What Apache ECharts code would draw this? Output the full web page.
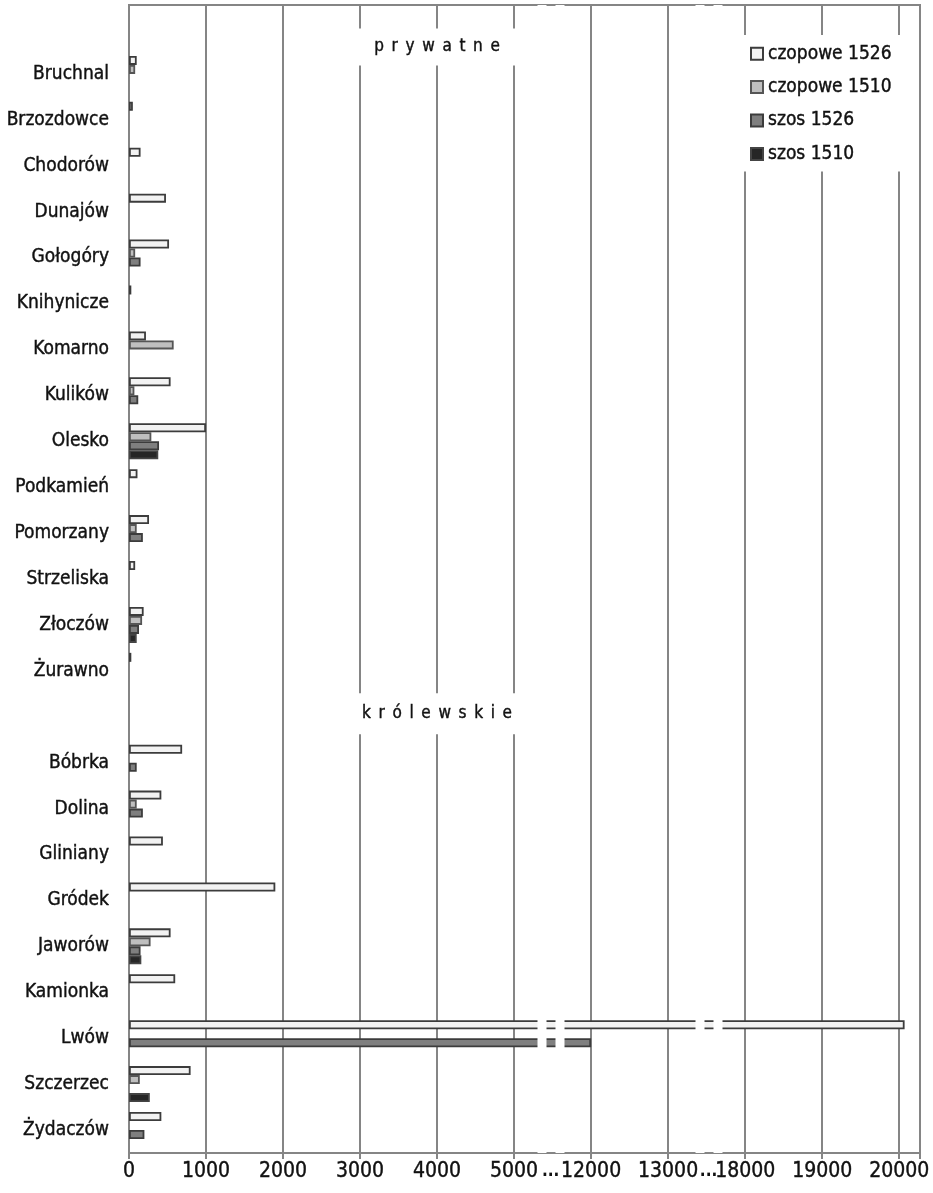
<!DOCTYPE html>
<html>
<head>
<meta charset="utf-8">
<script src="https://cdn.jsdelivr.net/npm/echarts@6.0.0/dist/echarts.min.js"></script>
<style>html,body{margin:0;padding:0;background:#fff}#c{width:933px;height:1193px}</style>
</head>
<body>
<div id="c"></div>
<script>
// ---- data ----
const categories = ['', 'Bruchnal', 'Brzozdowce', 'Chodorów', 'Dunajów', 'Gołogóry', 'Knihynicze', 'Komarno', 'Kulików', 'Olesko', 'Podkamień', 'Pomorzany', 'Strzeliska', 'Złoczów', 'Żurawno', ' ', 'Bóbrka', 'Dolina', 'Gliniany', 'Gródek', 'Jaworów', 'Kamionka', 'Lwów', 'Szczerzec', 'Żydaczów'];
const seriesNames = ['czopowe 1526', 'czopowe 1510', 'szos 1526', 'szos 1510'];
const czopowe1526 = [null, 100, 50, 150, 480, 520, 30, 220, 540, 1000, 110, 260, 80, 190, 30, null, 690, 420, 440, 1900, 540, 600, 20070, 800, 420];
const czopowe1510 = [null, 80, null, null, null, 80, null, 580, 70, 290, null, 100, null, 170, null, null, null, 100, null, null, 280, null, null, 140, null];
const szos1526    = [null, null, null, null, null, 150, null, null, 120, 390, null, 180, null, 130, null, null, 100, 180, null, null, 150, null, 12000, null, 200];
const szos1510    = [null, null, null, null, null, null, null, null, null, 380, null, null, null, 100, null, null, null, null, null, null, 160, null, null, 270, null];
const tickLabels = [0, 1000, 2000, 3000, 4000, 5000, 12000, 13000, 18000, 19000, 20000];
const axisMax = 20270;
// axis breaks (each visual break drawn as two white cuts)
const axisBreaks = [
  { start: 5300, end: 8100, gap: 117 },
  { start: 8217, end: 11650, gap: 117 },
  { start: 13350, end: 15050, gap: 117 },
  { start: 15167, end: 17700, gap: 117 }
];
const groupLabels = ['prywatne', 'królewskie'];

// ---- style ----
const FONT = "'Liberation Sans Narrow', 'DejaVu Sans Condensed', 'Liberation Sans', sans-serif";
const GRIDC = '#858585';
const TXT = '#111';
const fills = ['#f2f2f2', '#bfbfbf', '#7f7f7f', '#262626'];
const borders = ['#3c3c3c', '#555555', '#3c3c3c', '#444444'];
const seriesData = [czopowe1526, czopowe1510, szos1526, szos1510];

const chart = echarts.init(document.getElementById('c'), null, { renderer: 'canvas' });

const option = {
  backgroundColor: '#fff',
  animation: false,
  textStyle: { fontFamily: FONT },
  grid: { left: 129, right: 13, top: 5, bottom: 40, show: true, borderColor: GRIDC, borderWidth: 2, containLabel: false, outerBoundsMode: 'none' },
  legend: {
    orient: 'vertical', left: 742, top: 35,
    data: seriesNames, icon: 'rect', itemWidth: 12, itemHeight: 12, itemGap: 14,
    backgroundColor: '#fff', padding: [9, 16, 8, 8],
    textStyle: { fontSize: 19, fontFamily: FONT, color: TXT, textBorderColor: TXT, textBorderWidth: 0.4 }
  },
  xAxis: {
    type: 'value', min: 0, max: axisMax, interval: 1000,
    breaks: axisBreaks,
    breakArea: {
      show: true, expandOnClick: false, zigzagAmplitude: 0, zigzagZ: 100,
      itemStyle: { color: '#fff', borderColor: '#fff', borderWidth: 0, opacity: 1 }
    },
    axisLine: { show: true, lineStyle: { color: GRIDC, width: 2 } },
    axisTick: { show: true, length: 6, customValues: tickLabels.concat([axisMax]), lineStyle: { color: GRIDC, width: 2 } },
    splitLine: { show: true, lineStyle: { color: GRIDC, width: 2 } },
    axisLabel: {
      fontSize: 21, color: TXT, margin: 8, fontFamily: FONT, customValues: tickLabels,
      textBorderColor: TXT, textBorderWidth: 0.4,
      formatter: function (v) { return String(v); }
    }
  },
  yAxis: {
    type: 'category', inverse: true, data: categories,
    axisLine: { show: true, lineStyle: { color: GRIDC, width: 2 } },
    axisTick: { show: false },
    splitLine: { show: false },
    axisLabel: { fontSize: 19, color: TXT, margin: 20, interval: 0, fontFamily: FONT, textBorderColor: TXT, textBorderWidth: 0.4 }
  },
  series: seriesNames.map(function (name, i) {
    return {
      name: name, type: 'bar', data: seriesData[i],
      barWidth: 9, barGap: '0%',
      itemStyle: { color: fills[i], borderColor: borders[i], borderWidth: 1.8 }
    };
  })
};
chart.setOption(option);

// group labels and break dots, positioned through the axes
const xMid = chart.convertToPixel({ xAxisIndex: 0 }, 4000);
const y0 = chart.convertToPixel({ yAxisIndex: 0 }, 0);
const y1 = chart.convertToPixel({ yAxisIndex: 0 }, 1);
const y15 = chart.convertToPixel({ yAxisIndex: 0 }, 15);
const spaced = function (s) { return s.split('').join('\u2002'); };
const px = function (v) { return chart.convertToPixel({ xAxisIndex: 0 }, v); };
const b1 = (px(axisBreaks[0].start) + px(axisBreaks[1].end)) / 2;
const b2 = (px(axisBreaks[2].start) + px(axisBreaks[3].end)) / 2;
const gridBottom = 1193 - 40;
chart.setOption({
  graphic: [
    { type: 'text', z: 50, x: xMid, y: (y0 + y1) / 2 - 4,
      style: { text: spaced(groupLabels[0]), font: "17px " + FONT, fill: TXT, stroke: TXT, lineWidth: 0.4, align: 'center', verticalAlign: 'middle', backgroundColor: '#fff', padding: [10, 24] } },
    { type: 'text', z: 50, x: xMid, y: y15 - 3,
      style: { text: spaced(groupLabels[1]), font: "17px " + FONT, fill: TXT, stroke: TXT, lineWidth: 0.4, align: 'center', verticalAlign: 'middle', backgroundColor: '#fff', padding: [12, 12] } },
    { type: 'text', z: 50, x: b1, y: gridBottom + 19,
      style: { text: '...', font: "bold 17px " + FONT, fill: TXT, align: 'center', verticalAlign: 'middle' } },
    { type: 'text', z: 50, x: b2, y: gridBottom + 19,
      style: { text: '...', font: "bold 17px " + FONT, fill: TXT, align: 'center', verticalAlign: 'middle' } }
  ]
});
</script>
</body>
</html>
